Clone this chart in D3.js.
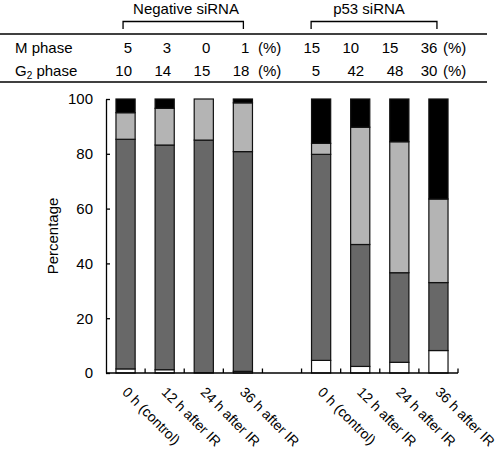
<!DOCTYPE html>
<html><head><meta charset="utf-8">
<script src="https://cdn.jsdelivr.net/npm/d3@7"></script>
<style>body{margin:0;background:#fff}svg{display:block}text{font-family:"Liberation Sans",Arial,Helvetica,sans-serif;fill:#000}</style>
</head><body>
<svg id="c" width="500" height="450"></svg>
<script>
// ---- data ----
const slots = ["n0","n12","n24","n36","gap","p0","p12","p24","p36"];
const xLabels = ["0 h (control)","12 h after IR","24 h after IR","36 h after IR","","0 h (control)","12 h after IR","24 h after IR","36 h after IR"];
const layers = ["other","g1","g2","m"];
const otherVals = [1.5, 1.2, 0, 0.6, null, 4.6, 2.4, 3.9, 8.2];
const g1Vals    = [83.8, 82, 85, 80.2, null, 75.2, 44.5, 32.7, 24.8];
const g2Vals    = [9.7, 13.4, 15, 17.8, null, 4, 42.8, 47.8, 30.5];
const mVals     = [5, 3.4, 0, 1.4, null, 16.2, 10.3, 15.6, 36.5];
const mPhaseText  = ["5","3","0","1","15","10","15","36"];
const g2PhaseText = ["10","14","15","18","5","42","48","30"];
const groupNames = ["Negative siRNA","p53 siRNA"];
const yTicks = [0,20,40,60,80,100];
const colors = {other:"#ffffff", g1:"#686868", g2:"#b4b4b4", m:"#000000"};

const svg = d3.select("#c");
const x = d3.scaleBand().domain(slots).range([106,458]).paddingInner(0.51).paddingOuter(0.255);
const y = d3.scaleLinear().domain([0,100]).range([373,99]);
const step = x.step(), bw = x.bandwidth();
const cx = k => x(k) + bw/2;

// rows data for stacking
const rows = slots.map((s,i)=>({slot:s, other:otherVals[i], g1:g1Vals[i], g2:g2Vals[i], m:mVals[i]})).filter(d=>d.g1!==null);
const stack = d3.stack().keys(layers)(rows);

// bars
stack.forEach(layer=>{
  svg.append("g").selectAll("rect").data(layer.filter(d=>d[1]-d[0]>0)).join("rect")
    .attr("x", d=>x(d.data.slot)).attr("width", bw)
    .attr("y", d=>y(d[1])).attr("height", d=>y(d[0])-y(d[1]))
    .attr("fill", colors[layer.key]).attr("stroke","#111").attr("stroke-width",1.2);
});

// y axis
const ya = svg.append("g").attr("transform","translate(106,0)")
  .call(d3.axisLeft(y).tickValues(yTicks).tickSize(-4).tickPadding(13).tickSizeOuter(0));
ya.select(".domain").attr("stroke","#000").attr("stroke-width",1.3);
ya.selectAll(".tick line").attr("stroke","#000").attr("stroke-width",1.3);
ya.selectAll(".tick text").attr("font-size",15).attr("font-family","Liberation Sans, Arial, sans-serif");

svg.append("text").attr("transform","translate(58,236) rotate(-90)").attr("text-anchor","middle")
  .attr("font-size",15).text("Percentage");

// x axis
svg.append("line").attr("x1",106).attr("x2",458).attr("y1",y(0)).attr("y2",y(0)).attr("stroke","#000").attr("stroke-width",1.3);
const tickXs = slots.slice(1).map(k=>x(k)-(step-bw)/2).concat([x.range()[1]]);
svg.append("g").selectAll("line").data(tickXs).join("line")
  .attr("x1",d=>d).attr("x2",d=>d).attr("y1",y(0)).attr("y2",y(0)-4.5).attr("stroke","#000").attr("stroke-width",1.3);

// rotated x labels
svg.append("g").selectAll("text").data(slots.map((s,i)=>({s,l:xLabels[i]})).filter(d=>d.l)).join("text")
  .attr("transform",d=>`translate(${cx(d.s)-4},393) rotate(45)`)
  .attr("font-size",14).text(d=>d.l);

// table on top
svg.append("line").attr("x1",0).attr("x2",487).attr("y1",34).attr("y2",34).attr("stroke","#000").attr("stroke-width",1.3);
svg.append("line").attr("x1",0).attr("x2",487).attr("y1",82).attr("y2",82).attr("stroke","#000").attr("stroke-width",1.3);

svg.append("text").attr("x",15).attr("y",53).attr("font-size",15).text("M phase");
const g2t = svg.append("text").attr("x",15).attr("y",76).attr("font-size",15);
g2t.append("tspan").text("G");
g2t.append("tspan").attr("font-size",10).attr("dy",3).text("2");
g2t.append("tspan").attr("dy",-3).text(" phase");

const barSlots = slots.filter(s=>s!=="gap");
const groupOffset = i => i<4 ? 6.5 : -1;
svg.append("g").selectAll("text").data(mPhaseText).join("text")
  .attr("x",(d,i)=>cx(barSlots[i])+groupOffset(i)).attr("y",53).attr("text-anchor","end").attr("font-size",15).text(d=>d);
svg.append("g").selectAll("text").data(g2PhaseText).join("text")
  .attr("x",(d,i)=>cx(barSlots[i])+groupOffset(i)+((i===5||i===6)?5:0)).attr("y",76).attr("text-anchor","end").attr("font-size",15).text(d=>d);
[258,443].forEach(px=>{
  svg.append("text").attr("x",px).attr("y",53).attr("font-size",15).text("(%)");
  svg.append("text").attr("x",px).attr("y",76).attr("font-size",15).text("(%)");
});

// brackets + group names
const brackets = [[cx("n0")-2.5, cx("n36")+0.5, groupNames[0], 186],[cx("p0")-10, cx("p36")-1.5, groupNames[1], 369]];
brackets.forEach(([a,b,name,tx])=>{
  svg.append("path").attr("d",`M${a},29V21.5H${b}V29`).attr("fill","none").attr("stroke","#000").attr("stroke-width",1.3);
  svg.append("text").attr("x",tx).attr("y",14).attr("text-anchor","middle").attr("font-size",15).text(name);
});
</script>
</body></html>
